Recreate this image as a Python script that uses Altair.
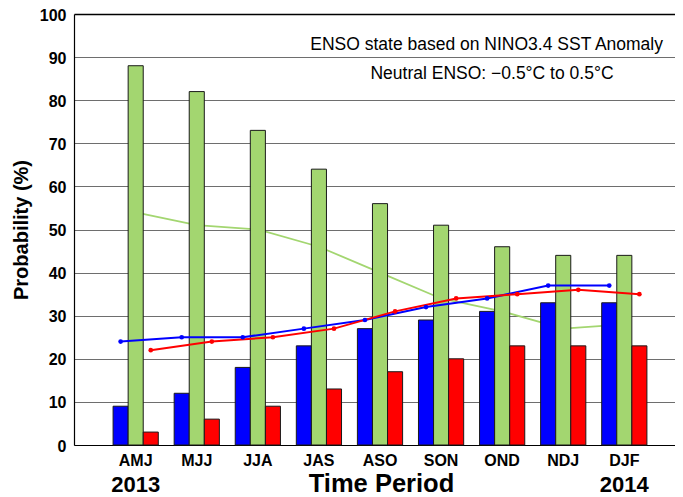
import altair as alt
import pandas as pd

periods = ["AMJ", "MJJ", "JJA", "JAS", "ASO", "SON", "OND", "NDJ", "DJF"]
series = ["La Niña", "Neutral", "El Niño"]
la_nina_bar = [9, 12, 18, 23, 27, 29, 31, 33, 33]
neutral_bar = [88, 82, 73, 64, 56, 51, 46, 44, 44]
el_nino_bar = [3, 6, 9, 13, 17, 20, 23, 23, 23]
la_nina_line = [24, 25, 25, 27, 29, 32, 34, 37, 37]
neutral_line = [54, 51, 50, 46, 40, 34, 31, 27, 28]
el_nino_line = [22, 24, 25, 27, 31, 34, 35, 36, 35]
year_labels = ["2013", "2014"]
year_periods = ["AMJ", "DJF"]
y_ticks = list(range(0, 101, 10))

bar_colors = ["#0000ff", "#9bd264", "#ff0000"]
line_colors = ["#0000ff", "#a3d670", "#ff0000"]

bars = pd.DataFrame({
    "period": periods * 3,
    "series": [s for s in series for _ in periods],
    "value": la_nina_bar + neutral_bar + el_nino_bar,
})
lines = pd.DataFrame({
    "period": periods * 3,
    "series": [s for s in series for _ in periods],
    "value": la_nina_line + neutral_line + el_nino_line,
})
years = pd.DataFrame({"period": year_periods, "label": year_labels})

FONT = "Liberation Sans"

x_enc = alt.X(
    "period:N", sort=periods,
    scale=alt.Scale(paddingInner=0.26, paddingOuter=0.64, range=[0, 612]),
    axis=alt.Axis(
        title="Time Period", titleFontSize=25.5, titleFontWeight="bold",
        titleBaseline="alphabetic", titleY=46.5, titleX=307, titleAlign="center",
        titleColor="black",
        labelFontSize=16, labelFontWeight="bold", labelColor="black",
        labelPadding=7, labelAngle=0, ticks=False,
        domainColor="black", domainWidth=1.2,
    ),
)
xo_enc = alt.XOffset("series:N", sort=series,
                     scale=alt.Scale(domain=series, paddingInner=0, paddingOuter=0))
y_enc = alt.Y(
    "value:Q",
    scale=alt.Scale(domain=[0, 100], nice=False),
    axis=alt.Axis(
        values=y_ticks, title="Probability (%)", titleFontSize=20,
        titleFontWeight="bold", titleColor="black", titlePadding=8,
        labelFontSize=16, labelFontWeight="bold", labelColor="black",
        labelPadding=8, labelOffset=1, ticks=False, grid=True,
        gridColor={"condition": {"test": "datum.value === 100", "value": "black"},
                   "value": "#6e6e6e"},
        gridWidth={"condition": {"test": "datum.value === 100", "value": 1.5},
                   "value": 1.2},
        domainColor="black", domainWidth=1.2,
    ),
)
color_enc = alt.Color("series:N", scale=alt.Scale(domain=series, range=bar_colors), legend=None)
line_color = alt.Color("series:N", scale=alt.Scale(domain=series, range=line_colors), legend=None)

green_line = alt.Chart(lines).transform_filter("datum.series === 'Neutral'").mark_line(
    strokeWidth=1.8).encode(x=x_enc, xOffset=xo_enc, y=y_enc, color=line_color)

bar_layer = alt.Chart(bars).mark_bar(stroke="#1a1a1a", strokeWidth=1).encode(
    x=x_enc, xOffset=xo_enc, y=y_enc, color=color_enc)

front = alt.Chart(lines).transform_filter("datum.series !== 'Neutral'")
front_lines = front.mark_line(strokeWidth=2).encode(
    x=x_enc, xOffset=xo_enc, y=y_enc, color=line_color, detail="series:N")
front_points = front.mark_point(filled=True, size=22, opacity=1).encode(
    x=x_enc, xOffset=xo_enc, y=y_enc, color=line_color)

year_text = alt.Chart(years).mark_text(
    fontSize=22, fontWeight="bold", font=FONT, color="black", baseline="alphabetic"
).encode(x=alt.X("period:N", sort=periods), y=alt.value(477.5), text="label:N")

note1 = alt.Chart(pd.DataFrame({"t": ["ENSO state based on NINO3.4 SST Anomaly"]})).mark_text(
    fontSize=17.5, font=FONT, color="black", align="right", baseline="middle"
).encode(x=alt.value(589), y=alt.value(31), text="t:N")
note2 = alt.Chart(pd.DataFrame({"t": ["Neutral ENSO: \u22120.5\u00b0C to 0.5\u00b0C"]})).mark_text(
    fontSize=17.5, font=FONT, color="black", align="center", baseline="middle"
).encode(x=alt.value(418), y=alt.value(60), text="t:N")

chart = alt.layer(
    green_line, bar_layer, front_lines, front_points, year_text, note1, note2
).properties(
    width=601, height=431,
    autosize=alt.AutoSizeParams(type="none"),
    padding={"left": 66, "top": 6, "right": 0, "bottom": 52},
).configure(font=FONT).configure_view(stroke=None).configure_axis(labelFont=FONT, titleFont=FONT)

chart.save("out.html", embed_options={"renderer": "svg", "actions": False})
